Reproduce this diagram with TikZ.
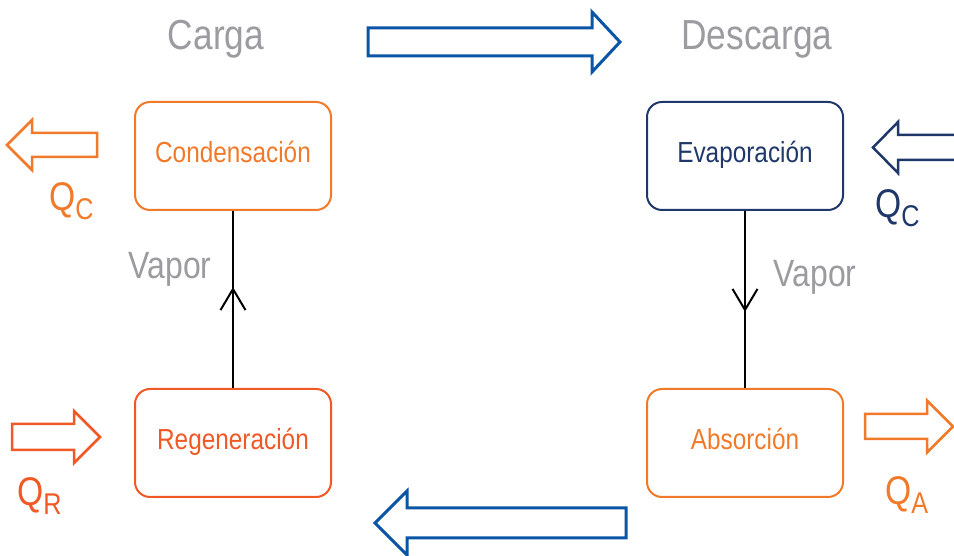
\documentclass[tikz,border=0pt]{standalone}
\usepackage{fontspec}
\setmainfont{Liberation Sans}[FakeStretch=0.84]
\usetikzlibrary{positioning,arrows.meta,decorations.markings}
\definecolor{cargaorange}{RGB}{241,122,42}
\definecolor{regenred}{RGB}{240,88,38}
\definecolor{evapnavy}{RGB}{31,56,105}
\definecolor{flowblue}{RGB}{10,85,165}
\definecolor{labelgray}{RGB}{155,155,160}
\def\bigtext{\fontsize{42pt}{48pt}\selectfont}
\def\vaportext{\fontsize{38pt}{44pt}\selectfont}
\def\boxtext{\fontsize{29pt}{34pt}\selectfont}
\def\qtext{\fontsize{40pt}{46pt}\selectfont}
\def\subtext{\fontsize{30pt}{34pt}\selectfont}
\def\stagegap{177pt}
\def\sidegap{314pt}

\tikzset{
  stage/.style={draw, line width=2pt, rounded corners=15pt,
    minimum width=196pt, minimum height=108pt,
    text height=21pt, text depth=7pt, font=\boxtext},
  heat arrow/.style={line width=2.5pt},
  cycle arrow/.style={draw=flowblue, line width=3pt},
  vapor line/.style={line width=2pt, postaction={decorate},
    decoration={markings, mark=at position 0.57 with {\arrow{Straight Barb[length=21pt,width=25pt]}}}},
  heat label/.style={anchor=base west, inner sep=0pt, font=\qtext},
  title/.style={anchor=base, text=labelgray, font=\bigtext},
}

\begin{document}
\begin{tikzpicture}[x=1pt,y=1pt]
  \clip (0,0) rectangle (954,556);

  \node[title] (carga) at (216,506) {Carga};
  \node[title] (descarga) at (757,506) {Descarga};

  \node[stage, draw=cargaorange, text=cargaorange] (cond) at (233,400) {Condensación};
  \node[stage, draw=evapnavy, text=evapnavy, right=\sidegap of cond] (evap) {Evaporación};
  \node[stage, draw=regenred, text=regenred, below=\stagegap of cond] (regen) {Regeneración};
  \node[stage, draw=cargaorange, text=cargaorange, below=\stagegap of evap] (absor) {Absorción};

  \draw[vapor line] (regen) -- (cond);
  \draw[vapor line] (evap) -- (absor);

  \node[anchor=base, text=labelgray, font=\vaportext] (vapor-left) at (170,277) {Vapor};
  \node[anchor=base, text=labelgray, font=\vaportext] (vapor-right) at (815,269) {Vapor};

  % carga -> descarga and back
  \draw[cycle arrow] (368,500) -- ++(224,0) -- ++(0,-16) -- ++(28,30)
    -- ++(-28,30) -- ++(0,-16) -- ++(-224,0) -- cycle;
  \draw[cycle arrow] (626,18) -- ++(-219,0) -- ++(0,-17) -- ++(-32,32)
    -- ++(32,32) -- ++(0,-17) -- ++(219,0) -- cycle;

  % heat in and out
  \draw[heat arrow, draw=cargaorange] (97,399) -- ++(-65,0) -- ++(0,-13) -- ++(-25,25)
    -- ++(25,25) -- ++(0,-13) -- ++(65,0) -- cycle;
  \draw[heat arrow, draw=evapnavy] (970,396) -- (898,396) -- ++(0,-13) -- ++(-25,25.5)
    -- ++(25,25.5) -- ++(0,-13) -- (970,421);
  \draw[heat arrow, draw=regenred] (12,106) -- ++(62,0) -- ++(0,-13) -- ++(26,26)
    -- ++(-26,26) -- ++(0,-13) -- ++(-62,0) -- cycle;
  \draw[heat arrow, draw=cargaorange] (865,117) -- ++(62,0) -- ++(0,-13.5) -- ++(26,26)
    -- ++(-26,26) -- ++(0,-13.5) -- ++(-62,0) -- cycle;

  \node[heat label, text=cargaorange] (qc-out) at (49,345) {Q\raisebox{-9pt}{\subtext C}};
  \node[heat label, text=evapnavy] (qc-in) at (875,338) {Q\raisebox{-9pt}{\subtext C}};
  \node[heat label, text=regenred] (qr) at (17,50) {Q\raisebox{-9pt}{\subtext R}};
  \node[heat label, text=cargaorange] (qa) at (885,51) {Q\raisebox{-9pt}{\subtext A}};

\end{tikzpicture}
\end{document}
